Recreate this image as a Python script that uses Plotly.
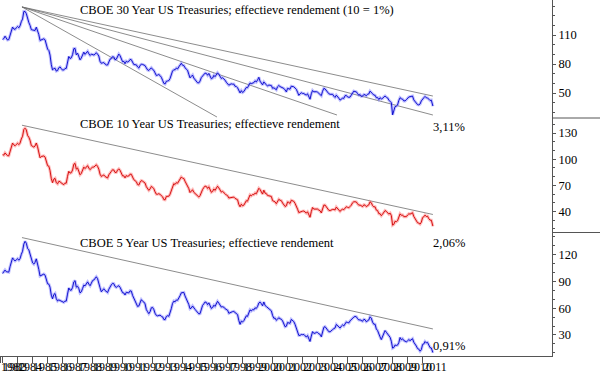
import pandas as pd
import plotly.graph_objects as go

# Monthly yields in % (Dec 1982 .. Aug 2011), final value = last close (Sep 2011)
y30 = [10.54,
    10.63, 10.88, 10.63, 10.48, 10.53, 10.93, 11.40, 11.82, 11.63, 11.58, 11.75, 11.88,
    11.75, 11.95, 12.38, 12.65, 13.43, 13.44, 13.21, 12.54, 12.29, 11.98, 11.56, 11.52,
    11.45, 11.47, 11.81, 11.47, 11.05, 10.44, 10.50, 10.56, 10.61, 10.50, 10.06, 9.54,
    9.40, 8.93, 7.96, 7.39, 7.52, 7.57, 7.27, 7.33, 7.62, 7.70, 7.52, 7.37,
    7.39, 7.54, 7.55, 8.25, 8.78, 8.57, 8.64, 8.97, 9.59, 9.61, 8.95, 9.12,
    8.83, 8.43, 8.63, 8.95, 9.23, 9.00, 9.14, 9.32, 9.06, 8.89, 9.02, 9.01,
    8.93, 9.01, 9.17, 9.03, 8.83, 8.27, 8.08, 8.12, 8.15, 8.00, 7.90, 7.90,
    8.26, 8.50, 8.56, 8.76, 8.73, 8.46, 8.50, 8.86, 9.03, 8.86, 8.54, 8.24,
    8.27, 8.03, 8.29, 8.21, 8.27, 8.47, 8.45, 8.14, 7.95, 7.93, 7.92, 7.70,
    7.58, 7.85, 7.97, 7.96, 7.89, 7.84, 7.60, 7.39, 7.34, 7.53, 7.61, 7.44,
    7.34, 7.09, 6.82, 6.85, 6.92, 6.81, 6.63, 6.32, 6.00, 5.94, 6.21, 6.25,
    6.29, 6.49, 6.91, 7.27, 7.41, 7.40, 7.58, 7.49, 7.71, 7.94, 8.08, 7.87,
    7.85, 7.61, 7.45, 7.36, 6.95, 6.57, 6.72, 6.86, 6.55, 6.37, 6.26, 6.06,
    6.05, 6.24, 6.60, 6.79, 6.93, 7.06, 7.03, 6.84, 7.03, 6.81, 6.48, 6.55,
    6.83, 6.69, 6.93, 7.09, 6.94, 6.77, 6.51, 6.58, 6.50, 6.33, 6.11, 5.99,
    5.81, 5.89, 5.95, 5.92, 5.93, 5.70, 5.68, 5.54, 5.20, 5.01, 5.25, 5.06,
    5.16, 5.37, 5.58, 5.55, 5.81, 6.04, 5.98, 6.07, 6.07, 6.26, 6.15, 6.35,
    6.63, 6.23, 6.05, 5.85, 6.15, 5.93, 5.85, 5.72, 5.83, 5.80, 5.78, 5.49,
    5.54, 5.45, 5.34, 5.65, 5.78, 5.67, 5.61, 5.48, 5.48, 5.32, 5.12, 5.48,
    5.45, 5.40, 5.71, 5.68, 5.65, 5.52, 5.39, 5.08, 4.76, 4.93, 5.03, 4.96,
    4.95, 4.85, 4.80, 4.92, 4.52, 4.36, 4.93, 5.26, 5.13, 5.16, 5.14, 5.09,
    4.96, 4.91, 4.73, 5.18, 5.48, 5.43, 5.25, 5.08, 4.93, 4.87, 4.89, 4.87,
    4.67, 4.55, 4.78, 4.65, 4.47, 4.27, 4.40, 4.47, 4.45, 4.73, 4.75, 4.59,
    4.56, 4.58, 4.79, 5.07, 5.20, 5.15, 5.13, 4.94, 4.78, 4.84, 4.66, 4.68,
    4.85, 4.82, 4.72, 4.87, 4.90, 5.20, 5.11, 4.93, 4.79, 4.77, 4.52, 4.53,
    4.33, 4.52, 4.39, 4.44, 4.60, 4.69, 4.57, 4.50, 4.27, 4.17, 4.00, 2.75,
    3.13, 3.59, 3.64, 3.76, 4.23, 4.52, 4.41, 4.37, 4.19, 4.19, 4.31, 4.49,
    4.60, 4.62, 4.64, 4.69, 4.29, 4.13, 3.99, 3.80, 3.77, 3.87, 4.19, 4.42,
    4.52, 4.65, 4.51, 4.50, 4.29, 4.23, 4.27, 3.65,
    3.11]

y10 = [10.54,
    10.46, 10.72, 10.51, 10.40, 10.38, 10.85, 11.38, 11.85, 11.65, 11.54, 11.69, 11.83,
    11.67, 11.84, 12.32, 12.63, 13.41, 13.56, 13.36, 12.72, 12.52, 12.16, 11.57, 11.50,
    11.38, 11.51, 11.86, 11.43, 10.85, 10.16, 10.31, 10.33, 10.37, 10.24, 9.78, 9.26,
    9.19, 8.70, 7.78, 7.30, 7.71, 7.80, 7.30, 7.17, 7.45, 7.43, 7.25, 7.11,
    7.08, 7.25, 7.25, 8.02, 8.61, 8.40, 8.45, 8.76, 9.42, 9.52, 8.86, 8.99,
    8.67, 8.21, 8.37, 8.72, 9.09, 8.92, 9.06, 9.26, 8.98, 8.80, 8.96, 9.11,
    9.09, 9.17, 9.36, 9.18, 8.86, 8.28, 8.02, 8.11, 8.19, 8.01, 7.87, 7.84,
    8.21, 8.47, 8.59, 8.79, 8.76, 8.48, 8.47, 8.75, 8.89, 8.72, 8.39, 8.08,
    8.09, 7.85, 8.11, 8.04, 8.07, 8.28, 8.27, 7.90, 7.65, 7.53, 7.42, 7.09,
    7.03, 7.34, 7.54, 7.48, 7.39, 7.26, 6.84, 6.59, 6.42, 6.59, 6.87, 6.77,
    6.60, 6.26, 5.98, 5.97, 6.04, 5.96, 5.81, 5.68, 5.36, 5.33, 5.72, 5.77,
    5.75, 5.97, 6.48, 6.97, 7.18, 7.10, 7.30, 7.24, 7.46, 7.74, 7.96, 7.81,
    7.78, 7.47, 7.20, 7.06, 6.63, 6.17, 6.28, 6.49, 6.20, 6.04, 5.93, 5.71,
    5.65, 5.81, 6.27, 6.51, 6.74, 6.91, 6.87, 6.64, 6.83, 6.53, 6.20, 6.30,
    6.58, 6.42, 6.69, 6.89, 6.71, 6.49, 6.22, 6.30, 6.21, 6.03, 5.88, 5.81,
    5.54, 5.57, 5.65, 5.64, 5.65, 5.50, 5.46, 5.34, 4.81, 4.53, 4.83, 4.65,
    4.72, 5.00, 5.23, 5.18, 5.54, 5.90, 5.79, 5.94, 5.92, 6.11, 6.03, 6.28,
    6.66, 6.52, 6.26, 5.99, 6.44, 6.10, 6.05, 5.83, 5.80, 5.74, 5.72, 5.24,
    5.16, 5.10, 4.89, 5.14, 5.39, 5.28, 5.24, 4.97, 4.73, 4.57, 4.65, 5.09,
    5.04, 4.91, 5.28, 5.21, 5.16, 4.93, 4.65, 4.26, 3.87, 3.94, 4.05, 4.03,
    4.05, 3.90, 3.81, 3.96, 3.57, 3.33, 3.98, 4.45, 4.27, 4.29, 4.30, 4.27,
    4.15, 4.08, 3.83, 4.35, 4.72, 4.73, 4.50, 4.28, 4.13, 4.10, 4.19, 4.23,
    4.22, 4.17, 4.50, 4.34, 4.14, 4.00, 4.18, 4.26, 4.20, 4.46, 4.54, 4.47,
    4.42, 4.57, 4.72, 4.99, 5.11, 5.11, 5.09, 4.88, 4.72, 4.73, 4.60, 4.56,
    4.76, 4.72, 4.56, 4.69, 4.75, 5.10, 5.00, 4.67, 4.52, 4.53, 4.15, 4.10,
    3.74, 3.74, 3.51, 3.68, 3.88, 4.10, 4.01, 3.89, 3.69, 3.81, 3.53, 2.42,
    2.52, 2.87, 2.82, 2.93, 3.29, 3.72, 3.56, 3.59, 3.40, 3.39, 3.40, 3.59,
    3.73, 3.69, 3.73, 3.85, 3.42, 3.20, 3.01, 2.70, 2.65, 2.54, 2.76, 3.29,
    3.39, 3.58, 3.41, 3.46, 3.17, 3.00, 3.00, 2.30,
    2.06]

y5 = [9.88,
    10.03, 10.26, 10.08, 10.02, 10.03, 10.63, 11.21, 11.63, 11.43, 11.28, 11.41, 11.54,
    11.37, 11.54, 12.02, 12.37, 13.17, 13.48, 13.27, 12.68, 12.53, 12.06, 11.33, 11.07,
    10.93, 11.13, 11.52, 11.01, 10.34, 9.60, 9.70, 9.81, 9.81, 9.69, 9.28, 8.73,
    8.68, 8.34, 7.46, 7.05, 7.52, 7.64, 7.06, 6.80, 6.92, 6.83, 6.76, 6.67,
    6.64, 6.79, 6.79, 7.57, 8.26, 8.02, 8.01, 8.32, 8.94, 9.08, 8.35, 8.45,
    8.18, 7.71, 7.83, 8.19, 8.58, 8.49, 8.66, 8.94, 8.69, 8.51, 8.79, 9.09,
    9.15, 9.27, 9.51, 9.30, 8.91, 8.29, 7.83, 8.09, 8.17, 7.97, 7.81, 7.75,
    8.12, 8.42, 8.60, 8.77, 8.74, 8.43, 8.33, 8.44, 8.51, 8.33, 8.02, 7.73,
    7.70, 7.47, 7.77, 7.70, 7.70, 7.94, 7.91, 7.43, 7.14, 6.87, 6.62, 6.19,
    6.24, 6.58, 6.95, 6.78, 6.69, 6.48, 5.84, 5.60, 5.38, 5.60, 6.04, 6.08,
    5.83, 5.43, 5.19, 5.13, 5.20, 5.22, 5.09, 5.03, 4.73, 4.71, 5.06, 5.15,
    5.09, 5.40, 5.94, 6.52, 6.78, 6.70, 6.91, 6.88, 7.08, 7.40, 7.72, 7.78,
    7.76, 7.37, 7.05, 6.86, 6.41, 5.93, 6.01, 6.24, 6.00, 5.86, 5.69, 5.51,
    5.36, 5.38, 5.97, 6.30, 6.48, 6.69, 6.64, 6.39, 6.60, 6.27, 5.97, 6.07,
    6.33, 6.20, 6.54, 6.76, 6.57, 6.38, 6.12, 6.16, 6.11, 5.93, 5.80, 5.77,
    5.42, 5.49, 5.61, 5.61, 5.63, 5.52, 5.46, 5.27, 4.62, 4.18, 4.54, 4.45,
    4.60, 4.91, 5.14, 5.08, 5.44, 5.81, 5.68, 5.84, 5.80, 6.03, 5.97, 6.19,
    6.58, 6.68, 6.50, 6.26, 6.69, 6.30, 6.18, 6.06, 5.93, 5.78, 5.70, 5.17,
    4.86, 4.89, 4.64, 4.76, 4.93, 4.81, 4.76, 4.57, 4.12, 3.91, 3.97, 4.39,
    4.34, 4.30, 4.74, 4.65, 4.49, 4.19, 3.81, 3.29, 2.94, 2.95, 3.05, 3.03,
    3.05, 2.90, 2.78, 2.93, 2.52, 2.27, 2.87, 3.37, 3.18, 3.19, 3.29, 3.27,
    3.12, 3.07, 2.79, 3.39, 3.85, 3.93, 3.69, 3.47, 3.36, 3.35, 3.53, 3.60,
    3.71, 3.77, 4.17, 4.00, 3.85, 3.77, 3.98, 4.12, 4.01, 4.33, 4.45, 4.39,
    4.35, 4.57, 4.72, 4.90, 5.00, 5.07, 5.04, 4.82, 4.67, 4.69, 4.58, 4.53,
    4.75, 4.71, 4.48, 4.59, 4.67, 5.03, 4.88, 4.43, 4.20, 4.20, 3.67, 3.49,
    2.98, 2.78, 2.48, 2.84, 3.15, 3.49, 3.30, 3.14, 2.88, 2.73, 2.29, 1.52,
    1.60, 1.87, 1.82, 1.86, 2.13, 2.71, 2.46, 2.57, 2.37, 2.33, 2.23, 2.34,
    2.48, 2.36, 2.43, 2.58, 2.18, 2.00, 1.76, 1.47, 1.41, 1.18, 1.35, 1.93,
    1.99, 2.26, 2.11, 2.17, 1.84, 1.58, 1.54, 1.02,
    0.91]

dates = list(pd.date_range("1982-12-15", "2011-08-15", freq="MS") + pd.Timedelta(days=14)) + [pd.Timestamp("2011-09-23")]

# trendlines (start date, start value, end date, end value) in chart units (10 = 1%)
trend_dates_30 = [["1984-05-01", "2011-09-23"], ["1984-05-01", "2011-09-23"],
                  ["1984-05-01", "2005-05-01"], ["1984-05-01", "1997-05-01"]]
trend_vals_30 = [[139, 46.9], [139, 27.3], [139, 27.3], [139, 25.2]]
trend_dates_10 = ["1984-05-01", "2011-09-23"]
trend_vals_10 = [139, 36.5]
trend_dates_5 = ["1984-05-01", "2011-09-23"]
trend_vals_5 = [139, 36.7]

titles = ["CBOE 30 Year US Treasuries; effectieve rendement (10 = 1%)",
          "CBOE 10 Year US Treasuries; effectieve rendement",
          "CBOE 5 Year US Treasuries; effectieve rendement"]
last_labels = ["3,11%", "2,06%", "0,91%"]
years = list(range(1982, 2012))

FONT = "Liberation Serif, Times New Roman, serif"
x_start, x_end = pd.Timestamp("1982-11-13"), pd.Timestamp("2019-09-01")

fig = go.Figure()

def add_series(vals, yaxis, dark, light):
    v = [a * 10 for a in vals]
    fig.add_trace(go.Scatter(x=dates, y=v, yaxis=yaxis, mode="lines",
                             line=dict(color=light, width=3), hoverinfo="skip", showlegend=False))
    fig.add_trace(go.Scatter(x=dates, y=v, yaxis=yaxis, mode="lines",
                             line=dict(color=dark, width=0.9), showlegend=False))

def add_trend(dts, vals, yaxis):
    fig.add_trace(go.Scatter(x=pd.to_datetime(dts), y=vals, yaxis=yaxis, mode="lines",
                             line=dict(color="#6e6e6e", width=0.8), hoverinfo="skip", showlegend=False))

for d, v in zip(trend_dates_30, trend_vals_30):
    add_trend(d, v, "y")
add_trend(trend_dates_10, trend_vals_10, "y2")
add_trend(trend_dates_5, trend_vals_5, "y3")

add_series(y30, "y", "#0000c8", "rgba(130,130,255,0.5)")
add_series(y10, "y2", "#d00000", "rgba(255,120,120,0.5)")
add_series(y5, "y3", "#0000c8", "rgba(130,130,255,0.5)")

H = 356.0
def pf(px):
    return (H - px) / H

def yax(top_px, bot_px, rng, tv):
    return dict(domain=[pf(bot_px), pf(top_px)], range=rng, side="right", anchor="x",
                automargin=False,
                showline=True, linecolor="#555", linewidth=1,
                ticks="outside", ticklen=3, tickcolor="#555",
                tickmode="array", tickvals=tv, ticktext=[str(t) for t in tv],
                minor=dict(tickmode="linear", tick0=0, dtick=10, ticks="outside", ticklen=2, tickcolor="#555"),
                showgrid=False, zeroline=False,
                tickfont=dict(family=FONT, size=12.5, color="black"))

tick_pos = [max(pd.Timestamp(f"{y}-01-01"), x_start + pd.Timedelta(days=3)) for y in years]

fig.update_layout(
    width=600, height=375, margin=dict(l=0, r=48, t=0, b=19, autoexpand=False),
    paper_bgcolor="white", plot_bgcolor="white",
    xaxis=dict(type="date", range=[x_start, x_end], anchor="y3", domain=[0, 1],
               automargin=False,
               showline=True, linecolor="#555", linewidth=1, showgrid=False, zeroline=False,
               ticks="outside", ticklen=6, tickcolor="#555",
               tickmode="array", tickvals=tick_pos, ticktext=[str(y) for y in years],
               tickangle=0, ticklabelshift=13, ticklabelstandoff=-6,
               tickfont=dict(family=FONT, size=12, color="black")),
    yaxis=yax(0, 118, [24.2, 146.2], [50, 80, 110]),
    yaxis2=yax(118, 232.5, [15.8, 147.3], [40, 70, 100, 130]),
    yaxis3=yax(232.5, 356, [6.4, 144.7], [30, 60, 90, 120]),
    showlegend=False,
)

for ypx in (118, 232.5):
    fig.add_shape(type="line", xref="paper", yref="paper", x0=1, x1=600 / 552,
                  y0=pf(ypx), y1=pf(ypx), line=dict(color="#555", width=1))

for t, ypx in zip(titles, (10, 124, 243)):
    fig.add_annotation(text=t, xref="paper", yref="paper", x=78 / 552, y=pf(ypx),
                       xanchor="left", yanchor="middle", showarrow=False,
                       font=dict(family=FONT, size=12.5, color="black"))

for t, ypx in zip(last_labels, (127, 243, 346)):
    fig.add_annotation(text=t, xref="x", yref="paper", x=dates[-1], y=pf(ypx),
                       xanchor="left", yanchor="middle", showarrow=False, xshift=-2,
                       font=dict(family=FONT, size=12.5, color="black"))

fig.write_html("out.html", config={"displayModeBar": False},
               post_script="document.body.style.margin='0px';document.body.style.overflow='hidden';")
